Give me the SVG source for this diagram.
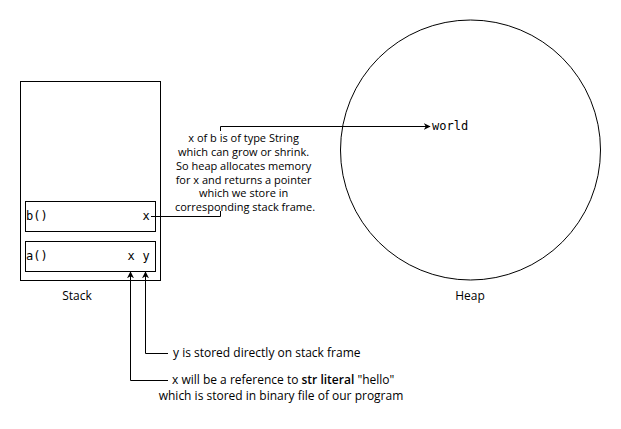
<svg xmlns="http://www.w3.org/2000/svg" width="621" height="429" viewBox="0 0 621 429">
<style>
.box{fill:#fff;stroke:#000;stroke-width:1}
.mono{font-family:"DejaVu Sans Mono",monospace;font-size:12px;fill:#000}
.lbl{font-family:"Open Sans","Noto Sans",sans-serif;font-size:12px;fill:#000}
.small{font-size:11px}
.edge{fill:none;stroke:#000;stroke-width:1}
</style>
<defs>
<marker id="arr" viewBox="0 0 10 10" refX="9" refY="5" markerWidth="7" markerHeight="7" markerUnits="userSpaceOnUse" orient="auto">
<path d="M0,0 L10,5 L0,10 L3,5 Z" fill="#000"/>
</marker>
</defs>
<rect width="621" height="429" fill="#fff"/>
<g id="stack">
<rect class="box" x="20.5" y="81.5" width="140" height="199"/>
<text class="lbl" x="77" y="300" text-anchor="middle">Stack</text>
</g>
<g id="frame-b">
<rect class="box" x="25.5" y="201.5" width="130" height="30"/>
<text class="mono" x="26" y="220">b()</text>
<text class="mono" x="146" y="220" text-anchor="middle">x</text>
</g>
<g id="frame-a">
<rect class="box" x="25.5" y="241.5" width="130" height="30"/>
<text class="mono" x="26" y="260">a()</text>
<text class="mono" x="131" y="260" text-anchor="middle">x</text>
<text class="mono" x="146" y="260" text-anchor="middle">y</text>
</g>
<g id="heap">
<circle class="box" cx="470.5" cy="150" r="130"/>
<text class="lbl" x="470" y="300" text-anchor="middle">Heap</text>
<text class="mono" x="432" y="130">world</text>
</g>
<g id="connectors">
<path class="edge" d="M151,216.5 H220.5 V126.5 H430" marker-end="url(#arr)"/>
<path class="edge" d="M168,353.5 H145.5 V272" marker-end="url(#arr)"/>
<path class="edge" d="M168,380.5 H130.5 V272" marker-end="url(#arr)"/>
</g>
<g id="note-b">
<rect x="171" y="131" width="148" height="80" fill="#fff"/>
<text class="lbl small" text-anchor="middle" x="245">
<tspan x="245" y="142">x of b is of type String</tspan>
<tspan x="245" y="156">which can grow or shrink.</tspan>
<tspan x="245" y="170">So heap allocates memory</tspan>
<tspan x="245" y="184">for x and returns a pointer</tspan>
<tspan x="245" y="197">which we store in</tspan>
<tspan x="245" y="211">corresponding stack frame.</tspan>
</text>
</g>
<g id="note-y">
<text class="lbl" x="173" y="357">y is stored directly on stack frame</text>
</g>
<g id="note-x">
<text class="lbl" x="172" y="384">x will be a reference to <tspan font-weight="600">str literal</tspan> "hello"</text>
<text class="lbl" x="281" y="400" text-anchor="middle">which is stored in binary file of our program</text>
</g>
</svg>
